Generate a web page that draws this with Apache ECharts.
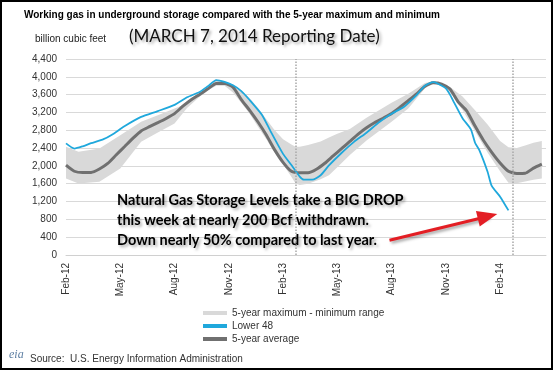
<!DOCTYPE html>
<html><head><meta charset="utf-8">
<script src="https://cdn.jsdelivr.net/npm/echarts@6/dist/echarts.min.js"></script>
<style>html,body{margin:0;padding:0;background:#fff}#c{width:554px;height:372px}</style>
</head><body><div id="c"></div>
<script>
// x axis: weeks since first reported week (Feb-12)
const xTickLabels = ['Feb-12','May-12','Aug-12','Nov-12','Feb-13','May-13','Aug-13','Nov-13','Feb-14'];
const xTickWeeks = [0,13,26,39,52,65,78,91,104];

const lower48Weeks = [0,2,4,6,9,11,14,18,22,26,29,32,34,36,38,40,42,44,47,49,52,54,56,57,59,61,63,66,69,72,75,78,81,84,86,88,89,91,92,93,95,97,98,99,101,102,104,106];
const lower48 = [2505,2390,2440,2510,2600,2700,2890,3100,3230,3370,3540,3660,3790,3928,3885,3810,3680,3480,3140,2780,2270,2020,1760,1690,1690,1790,2010,2290,2540,2745,2980,3170,3330,3590,3800,3880,3850,3740,3600,3420,3070,2820,2520,2360,1870,1550,1310,1001];

const avgWeeks = [0,2,4,6,8,10,12,14,16,18,20,22,24,26,28,30,32,34,36,38,40,42,44,46,48,50,52,54,56,58,60,62,64,66,68,70,72,74,76,78,80,82,84,86,88,90,92,94,96,98,100,102,104,106,108,110,112,114];
const avg5yr = [2018,1880,1850,1852,1930,2055,2245,2430,2617,2785,2880,2970,3065,3174,3340,3487,3605,3730,3850,3850,3770,3490,3247,2985,2692,2360,2080,1880,1845,1845,1924,2059,2225,2386,2550,2714,2856,2973,3071,3176,3316,3464,3615,3789,3866,3838,3725,3431,3237,2894,2577,2305,2067,1880,1831,1835,1950,2040];

const bandWeeks = [0,3,8,13,18,22,26,29,32,34,36,38,40,42,44,46,48,50,52,54,55,56,58,61,63,65,68,72,78,82,86,88,90,92,95,98,101,104,106,108,110,112,114];
const bandMax = [2430,2320,2390,2690,2990,3140,3290,3400,3620,3780,3920,3890,3830,3700,3520,3300,3050,2800,2600,2480,2430,2430,2470,2550,2640,2720,2830,3080,3420,3620,3860,3900,3850,3770,3560,3250,2930,2560,2420,2400,2460,2520,2560];
const bandMin = [1719,1606,1643,1944,2540,2750,2950,3300,3550,3700,3800,3800,3650,3420,3170,2880,2600,2300,2030,1755,1606,1570,1600,1700,1790,1970,2243,2570,2991,3291,3741,3850,3800,3660,3254,2780,2300,1880,1620,1610,1650,1690,1719];

const reportWeeks = [55, 107];
const arrowFrom = [77.5, 330];
const arrowTo = [101, 865];

const chart = echarts.init(document.getElementById('c'), null, {renderer:'canvas'});
const AR = 'Liberation Sans, Arial, sans-serif';
chart.setOption({
  animation: false,
  backgroundColor: '#fff',
  title: [
    {text:'Working gas in underground storage compared with the 5-year maximum and minimum', left:24, top:10, padding:0,
      textStyle:{fontSize:10, fontWeight:'bold', color:'#000', fontFamily:AR}},
    {text:'billion cubic feet', left:35, top:34, padding:0,
      textStyle:{fontSize:10, fontWeight:'normal', color:'#222', fontFamily:AR}},
    {text:'(MARCH 7, 2014 Reporting Date)', left:129, top:28, padding:0,
      textStyle:{fontSize:17, fontWeight:'normal', color:'#111', fontFamily:'Lato',
        textShadowColor:'rgba(0,0,0,0.35)', textShadowBlur:3, textShadowOffsetX:2, textShadowOffsetY:2}},
    {text:'Source:  U.S. Energy Information Administration', left:30, top:354, padding:0,
      textStyle:{fontSize:10, fontWeight:'normal', color:'#333', fontFamily:AR}}
  ],
  legend: {
    orient:'vertical', left:203, top:308, itemWidth:24, itemHeight:4, itemGap:3, icon:'rect',
    selectedMode:false, padding:0,
    textStyle:{fontSize:10, color:'#333', fontFamily:AR},
    data:['5-year maximum - minimum range','Lower 48','5-year average']
  },
  grid: {left:66, right:8, top:59, height:196, containLabel:false},
  xAxis: {
    type:'value', min:0, max:115,
    splitLine:{show:false},
    axisLine:{show:true, lineStyle:{color:'#d0d0d0', width:1}},
    axisTick:{show:false},
    axisLabel:{rotate:90, fontSize:10, color:'#333', margin:8, fontFamily:AR,
      customValues:xTickWeeks,
      formatter: v => xTickLabels[xTickWeeks.indexOf(v)] || ''}
  },
  yAxis: {
    type:'value', min:0, max:4400, interval:400,
    axisLine:{show:false}, axisTick:{show:false},
    splitLine:{lineStyle:{color:'#d9d9d9', width:1}},
    axisLabel:{fontSize:10, color:'#333', margin:9, fontFamily:AR,
      formatter: v => v.toLocaleString('en-US')}
  },
  graphic: [
    {type:'rect', shape:{x:1, y:1, width:551, height:368}, style:{fill:null, stroke:'#000', lineWidth:2}, z:100, silent:true},
    {type:'text', left:117, top:190, z:50, silent:true,
      style:{text:'Natural Gas Storage Levels take a BIG DROP\nthis week at nearly 200 Bcf withdrawn.\nDown nearly 50% compared to last year.',
        font:'bold 14.5px Lato', lineHeight:20, fill:'#000',
        textShadowColor:'rgba(0,0,0,0.35)', textShadowBlur:3, textShadowOffsetX:2, textShadowOffsetY:2}},
    {type:'text', left:9, top:349, z:50, silent:true,
      style:{text:'eia', font:'italic 12px Liberation Serif', fill:'#5d7fa3'}}
  ],
  series: [
    {
      name:'5-year maximum - minimum range', type:'custom', z:1,
      itemStyle:{color:'#d9d9d9'},
      data: bandWeeks.map((w,i)=>[w, bandMin[i], bandMax[i]]),
      encode:{x:0, y:[1,2]},
      renderItem: function(params, api){
        if (params.dataIndex !== 0) return null;
        const top = bandWeeks.map((w,i)=>api.coord([w, bandMax[i]]));
        const bot = bandWeeks.map((w,i)=>api.coord([w, bandMin[i]])).reverse();
        return {type:'polygon', shape:{points: top.concat(bot)}, style:{fill:'#d9d9d9'}};
      }
    },
    {
      name:'5-year average', type:'line', z:2, symbol:'none', smooth:0.2,
      itemStyle:{color:'#707070'},
      lineStyle:{color:'#707070', width:3},
      data: avgWeeks.map((w,i)=>[w, avg5yr[i]]),
      markLine:{silent:true, symbol:'none', label:{show:false},
        lineStyle:{color:'#a8a8a8', type:'dotted', width:1.5},
        data: reportWeeks.map(w=>({xAxis:w}))}
    },
    {
      name:'Lower 48', type:'line', z:3, symbol:'none', smooth:0.2,
      itemStyle:{color:'#1fa8dc'},
      lineStyle:{color:'#1fa8dc', width:1.8},
      data: lower48Weeks.map((w,i)=>[w, lower48[i]]),
      markLine:{silent:true, symbol:['none','triangle'], symbolSize:[16,20], label:{show:false},
        lineStyle:{color:'#e31e24', width:3, type:'solid', shadowColor:'rgba(0,0,0,0.35)', shadowBlur:3, shadowOffsetX:2, shadowOffsetY:2},
        data:[[{coord:arrowFrom},{coord:arrowTo}]]}
    }
  ]
});
</script></body></html>
